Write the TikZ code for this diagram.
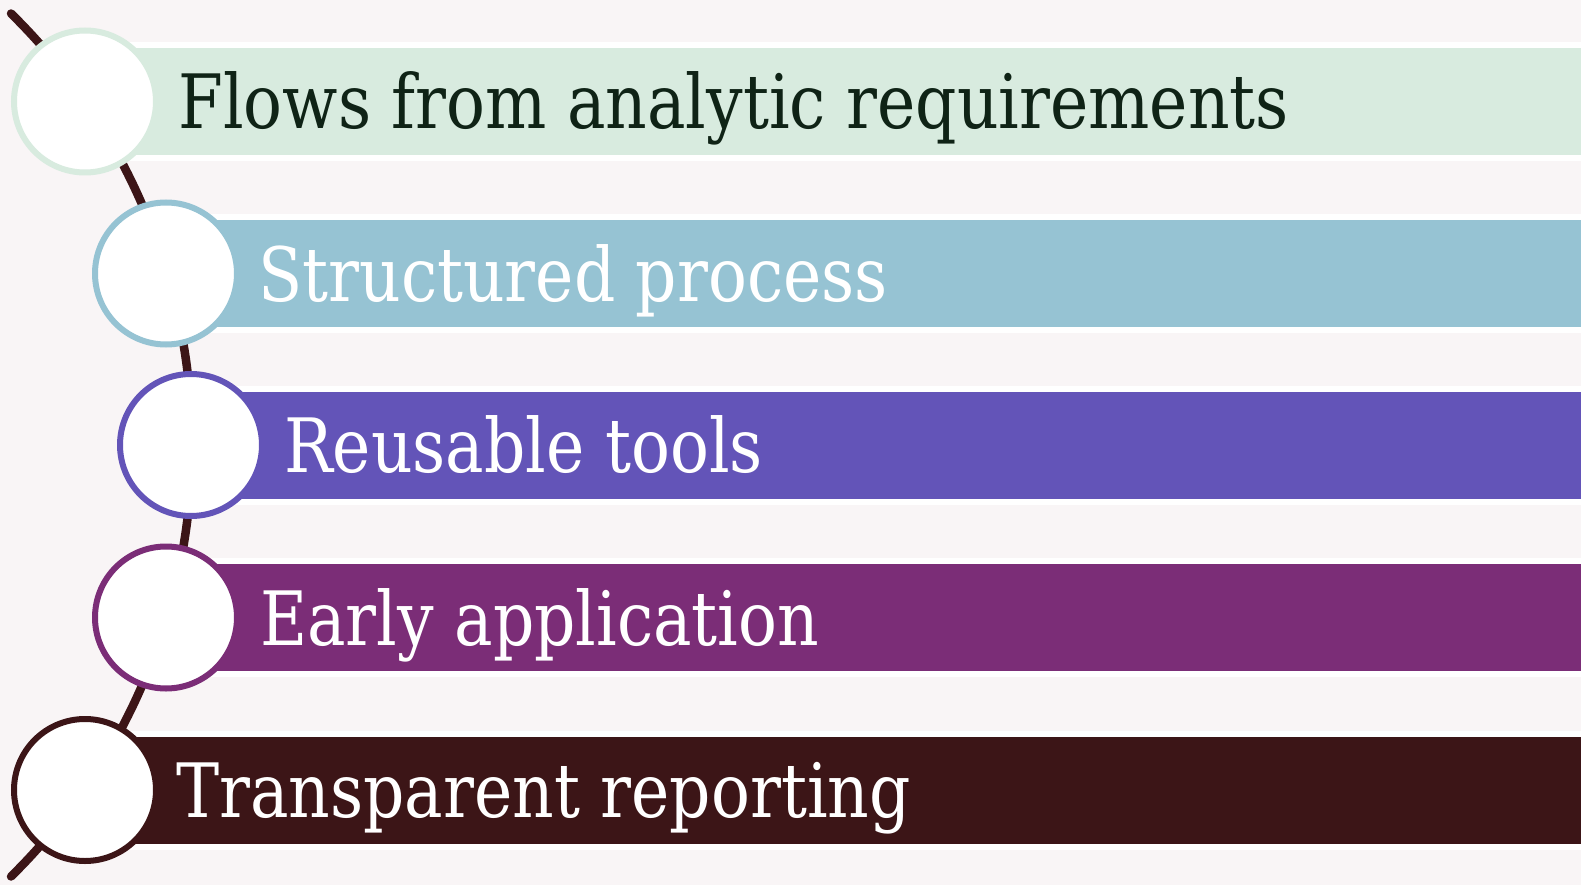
\documentclass[tikz,border=0pt]{standalone}
\usepackage{fontspec}
\setmainfont{DejaVu Serif}[FakeStretch=0.862]
\definecolor{pagebg}{HTML}{F9F5F6}
\definecolor{barA}{HTML}{D8EBDF}
\definecolor{barB}{HTML}{96C3D3}
\definecolor{barC}{HTML}{6354B8}
\definecolor{barD}{HTML}{7B2D77}
\definecolor{barE}{HTML}{3C1517}
\definecolor{txtA}{HTML}{0F2316}
\tikzset{
  band/.style={fill=#1, draw=white, line width=6pt},
  disc/.style={circle, fill=white, draw=#1, line width=6pt, minimum size=142pt, inner sep=0pt},
  label/.style={anchor=base west, inner sep=0pt, font=\fontsize{75}{80}\selectfont, text=#1},
  spine/.style={draw=barE, line width=8.5pt, line cap=round}
}
\begin{document}
\begin{tikzpicture}[x=1pt,y=-1pt]
  \fill[pagebg] (0,0) rectangle (1581,885);
  \useasboundingbox (0,0) rectangle (1581,885);
  \clip (0,0) rectangle (1581,885);
  % curved spine behind the list
  \coordinate (hub) at (-413,445);
  \draw[spine] ([shift={(45.5:605pt)}]hub) arc[start angle=45.5, end angle=-45.5, radius=605pt];
  % item bands
  \foreach \cx/\cy/\col in {85/101.5/barA, 166/273.5/barB, 191/445/barC, 166/617.5/barD, 85/790/barE}{
    \draw[band=\col] (\cx,\cy-56.5) rectangle (1600,\cy+56.5);
  }
  % discs on the spine
  \node[disc=barA] (d1) at (85,101.5) {};
  \node[disc=barB] (d2) at (166,273.5) {};
  \node[disc=barC] (d3) at (191,445) {};
  \node[disc=barD] (d4) at (166,617.5) {};
  \node[disc=barE] (d5) at (85,790) {};
  % labels
  \node[label=txtA] (t1) at (178,129) {Flows from analytic requirements};
  \node[label=white] (t2) at (258,301) {Structured process};
  \node[label=white] (t3) at (284,472.5) {Reusable tools};
  \node[label=white] (t4) at (260,645) {Early application};
  \node[label=white] (t5) at (176,817.5) {Transparent reporting};
\end{tikzpicture}
\end{document}
